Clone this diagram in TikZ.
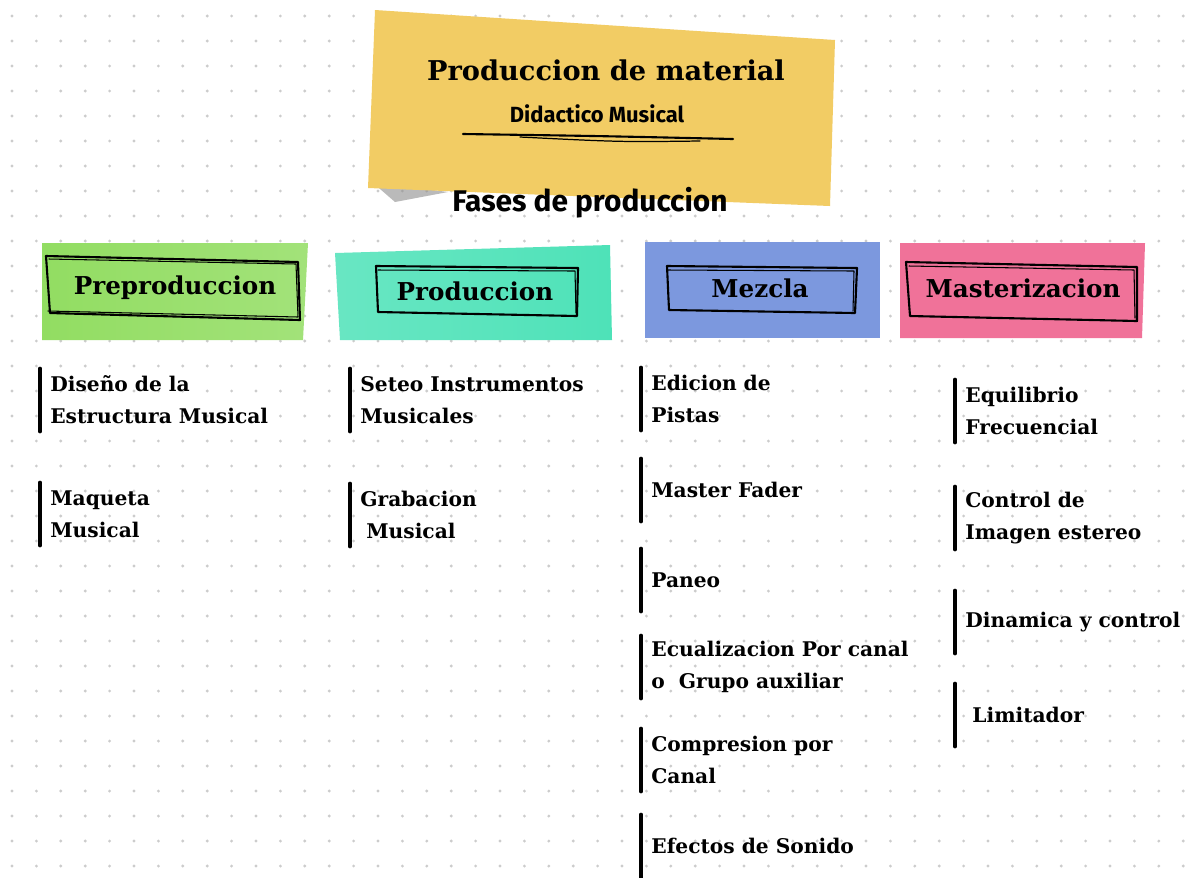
\documentclass[tikz,border=0pt]{standalone}
\usepackage{fontspec}
\setmainfont{DejaVu Serif}
\newfontfamily\handfont{Fira Sans}
\usetikzlibrary{positioning}

\definecolor{noteyellow}{RGB}{242,204,100}
\definecolor{notegreen}{RGB}{146,221,98}
\definecolor{noteteal}{RGB}{78,226,184}
\definecolor{noteblue}{RGB}{124,152,222}
\definecolor{notepink}{RGB}{240,114,153}

\begin{document}
\begin{tikzpicture}[x=0.02cm, y=-0.02cm,
  title/.style={font=\bfseries\fontsize{15.5}{18}\selectfont, inner sep=0pt},
  hand/.style={font=\handfont\bfseries\fontsize{12.5}{14}\selectfont, inner sep=0pt},
  phase/.style={font=\bfseries\fontsize{14}{16}\selectfont, inner sep=0pt},
  item/.style={font=\bfseries\fontsize{11.5}{18.2}\selectfont, align=left,
    anchor=west, inner sep=0pt, minimum height=1.25cm},
  bar/.style={line width=2pt, line cap=round},
  sketch/.style={line width=1.2pt, line cap=round, line join=round}]
  \useasboundingbox (0,0) rectangle (1185,877);
  \fill[white] (0,0) rectangle (1185,877);

  % dotted paper
  \foreach \i in {0,...,48}
    \foreach \j in {0,...,34}
      \fill[black!20] (12+24.4*\i,16+25*\j) circle (0.9pt);

  % title note
  \fill[black!45, opacity=0.6] (372,182) -- (448,192) -- (395,202) -- cycle;
  \fill[noteyellow] (375,10) -- (835,40) -- (830,206) -- (368,188) -- cycle;
  \node[title] (title) at (606,70) {Produccion de material};
  \node[hand] (sub) at (597,114) {Didactico Musical};
  \draw[sketch] (463,134) .. controls (600,136) .. (733,139);
  \draw[sketch, line width=0.7pt] (520,137) .. controls (620,142) .. (700,141);
  \node[hand, font=\handfont\bfseries\fontsize{17}{20}\selectfont] (fases) at (590,203)
    {Fases de produccion};

  % phase notes
  \shade[left color=notegreen, right color=notegreen!85!white]
    (42,243) -- (308,243) -- (303,340) -- (42,340) -- cycle;
  \shade[left color=noteteal!85!white, right color=noteteal]
    (335,253) -- (610,245) -- (612,340) -- (340,340) -- cycle;
  \fill[noteblue] (645,242) -- (880,242) -- (880,338) -- (645,338) -- cycle;
  \fill[notepink] (900,243) -- (1145,243) -- (1142,338) -- (900,338) -- cycle;

  \draw[sketch] (46,256) -- (298,262) -- (300,320) -- (50,313) -- cycle;
  \draw[sketch, line width=0.6pt] (49,259) -- (296,264) -- (298,317) -- (48,311);
  \draw[sketch] (376,266) -- (578,268) -- (577,316) -- (378,312) -- cycle;
  \draw[sketch, line width=0.6pt] (378,270) -- (575,271) -- (576,313);
  \draw[sketch] (667,266) -- (857,268) -- (855,313) -- (669,310) -- cycle;
  \draw[sketch, line width=0.6pt] (668,270) -- (854,271) -- (853,311);
  \draw[sketch] (906,262) -- (1137,267) -- (1137,321) -- (910,316) -- cycle;
  \draw[sketch, line width=0.6pt] (909,266) -- (1134,270) -- (1135,318);

  \node[phase] (pre) at (175,288) {Preproduccion};
  \node[phase] (pro) at (475,291) {Produccion};
  \node[phase] (mez) at (760,288) {Mezcla};
  \node[phase] (mst) at (1023,288) {Masterizacion};

  % items
  \node[item] (dis) at (50,400) {Diseño de la\\Estructura Musical};
  \node[item] (maq) at (50,514) {Maqueta\\Musical};

  \node[item] (set) at (360,400) {Seteo Instrumentos\\Musicales};
  \node[item] (gra) at (360,515) {Grabacion\\\hspace{0.12cm}Musical};

  \node[item] (edi) at (651,399) {Edicion de\\Pistas};
  \node[item] (mas) at (651,490) {Master Fader};
  \node[item] (pan) at (651,580) {Paneo};
  \node[item] (ecu) at (651,667) {Ecualizacion Por canal\\o\ \ Grupo auxiliar};
  \node[item] (com) at (651,760) {Compresion por\\Canal};
  \node[item] (efe) at (651,846) {Efectos de Sonido};

  \node[item] (equ) at (965,411) {Equilibrio\\Frecuencial};
  \node[item] (con) at (965,518) {Control de\\Imagen estereo};
  \node[item] (din) at (965,622) {Dinamica y control};
  \node[item] (lim) at (965,715) {\hspace{0.14cm}Limitador};

  \foreach \n in {dis,maq,set,gra,edi,mas,pan,ecu,com,efe,equ,con,din,lim}
    \draw[bar] ([xshift=-0.2cm]\n.north west) -- ([xshift=-0.2cm]\n.south west);
\end{tikzpicture}
\end{document}
